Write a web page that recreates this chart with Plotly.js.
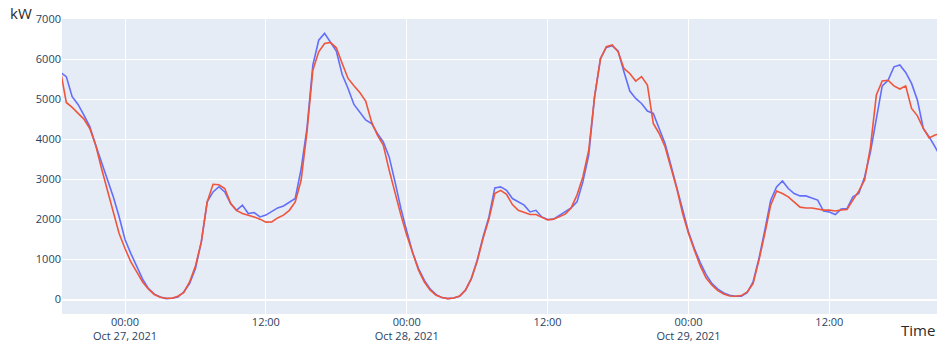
<!DOCTYPE html>
<html>
<head>
<meta charset="utf-8">
<script src="https://cdn.plot.ly/plotly-3.0.1.min.js"></script>
<style>html,body{margin:0;padding:0;background:#fff;}#chart{width:937px;height:344px;}</style>
</head>
<body>
<div id="chart"></div>
<script>
const times = [
'2021-10-26 18:30','2021-10-26 19:00','2021-10-26 19:30','2021-10-26 20:00','2021-10-26 20:30','2021-10-26 21:00','2021-10-26 21:30','2021-10-26 22:00','2021-10-26 22:30','2021-10-26 23:00','2021-10-26 23:30',
'2021-10-27 00:00','2021-10-27 00:30','2021-10-27 01:00','2021-10-27 01:30','2021-10-27 02:00','2021-10-27 02:30','2021-10-27 03:00','2021-10-27 03:30','2021-10-27 04:00','2021-10-27 04:30','2021-10-27 05:00','2021-10-27 05:30',
'2021-10-27 06:00','2021-10-27 06:30','2021-10-27 07:00','2021-10-27 07:30','2021-10-27 08:00','2021-10-27 08:30','2021-10-27 09:00','2021-10-27 09:30','2021-10-27 10:00','2021-10-27 10:30','2021-10-27 11:00','2021-10-27 11:30',
'2021-10-27 12:00','2021-10-27 12:30','2021-10-27 13:00','2021-10-27 13:30','2021-10-27 14:00','2021-10-27 14:30','2021-10-27 15:00','2021-10-27 15:30','2021-10-27 16:00','2021-10-27 16:30','2021-10-27 17:00','2021-10-27 17:30',
'2021-10-27 18:00','2021-10-27 18:30','2021-10-27 19:00','2021-10-27 19:30','2021-10-27 20:00','2021-10-27 20:30','2021-10-27 21:00','2021-10-27 21:30','2021-10-27 22:00','2021-10-27 22:30','2021-10-27 23:00','2021-10-27 23:30',
'2021-10-28 00:00','2021-10-28 00:30','2021-10-28 01:00','2021-10-28 01:30','2021-10-28 02:00','2021-10-28 02:30','2021-10-28 03:00','2021-10-28 03:30','2021-10-28 04:00','2021-10-28 04:30','2021-10-28 05:00','2021-10-28 05:30',
'2021-10-28 06:00','2021-10-28 06:30','2021-10-28 07:00','2021-10-28 07:30','2021-10-28 08:00','2021-10-28 08:30','2021-10-28 09:00','2021-10-28 09:30','2021-10-28 10:00','2021-10-28 10:30','2021-10-28 11:00','2021-10-28 11:30',
'2021-10-28 12:00','2021-10-28 12:30','2021-10-28 13:00','2021-10-28 13:30','2021-10-28 14:00','2021-10-28 14:30','2021-10-28 15:00','2021-10-28 15:30','2021-10-28 16:00','2021-10-28 16:30','2021-10-28 17:00','2021-10-28 17:30',
'2021-10-28 18:00','2021-10-28 18:30','2021-10-28 19:00','2021-10-28 19:30','2021-10-28 20:00','2021-10-28 20:30','2021-10-28 21:00','2021-10-28 21:30','2021-10-28 22:00','2021-10-28 22:30','2021-10-28 23:00','2021-10-28 23:30',
'2021-10-29 00:00','2021-10-29 00:30','2021-10-29 01:00','2021-10-29 01:30','2021-10-29 02:00','2021-10-29 02:30','2021-10-29 03:00','2021-10-29 03:30','2021-10-29 04:00','2021-10-29 04:30','2021-10-29 05:00','2021-10-29 05:30',
'2021-10-29 06:00','2021-10-29 06:30','2021-10-29 07:00','2021-10-29 07:30','2021-10-29 08:00','2021-10-29 08:30','2021-10-29 09:00','2021-10-29 09:30','2021-10-29 10:00','2021-10-29 10:30','2021-10-29 11:00','2021-10-29 11:30',
'2021-10-29 12:00','2021-10-29 12:30','2021-10-29 13:00','2021-10-29 13:30','2021-10-29 14:00','2021-10-29 14:30','2021-10-29 15:00','2021-10-29 15:30','2021-10-29 16:00','2021-10-29 16:30','2021-10-29 17:00','2021-10-29 17:30',
'2021-10-29 18:00','2021-10-29 18:30','2021-10-29 19:00','2021-10-29 19:30','2021-10-29 20:00','2021-10-29 20:30','2021-10-29 21:00','2021-10-29 21:30'
];

const actualKW = [
5680,5570,5070,4875,4610,4320,3860,3440,2980,2570,2070,
1500,1150,820,510,275,135,65,25,35,65,190,400,
775,1440,2440,2690,2820,2690,2400,2230,2360,2150,2175,2065,
2110,2190,2290,2340,2425,2525,3260,4275,5860,6480,6650,6440,
6210,5625,5275,4875,4675,4490,4400,4150,3940,3565,2940,2275,
1710,1175,775,480,260,125,50,25,40,85,235,525,
985,1565,2065,2790,2815,2730,2525,2440,2360,2190,2230,2065,
2000,2010,2110,2190,2290,2440,2940,3610,5070,6025,6300,6340,
6210,5690,5210,5025,4900,4710,4650,4275,3900,3360,2815,2230,
1690,1275,925,625,400,260,165,110,85,85,175,440,
1025,1735,2485,2815,2965,2775,2650,2590,2590,2540,2485,2210,
2190,2125,2260,2275,2565,2650,3065,3690,4565,5340,5480,5815,
5860,5675,5400,4980,4275,4065,3815,3550
];

const predictedKW = [
5730,4925,4800,4665,4510,4275,3860,3275,2730,2150,1650,
1275,940,690,440,260,125,60,35,35,85,175,440,
840,1440,2440,2880,2870,2775,2400,2230,2150,2110,2065,2010,
1935,1940,2040,2110,2230,2440,2980,4190,5730,6190,6400,6425,
6290,5900,5525,5340,5175,4960,4440,4110,3860,3235,2650,2110,
1610,1150,735,440,235,110,50,25,40,90,235,525,
960,1525,2010,2650,2730,2630,2375,2230,2175,2125,2125,2050,
1990,2010,2065,2135,2290,2610,3065,3730,5070,6010,6320,6360,
6190,5775,5650,5460,5570,5360,4400,4150,3820,3275,2775,2150,
1650,1235,840,540,360,225,140,90,85,100,190,400,
985,1650,2360,2710,2650,2565,2440,2310,2290,2290,2265,2235,
2235,2215,2240,2250,2485,2710,2985,3815,5110,5460,5480,5340,
5260,5340,4775,4590,4275,4040,4110,4150
];

const traces = [
  {x: times, y: actualKW, type: 'scatter', mode: 'lines', name: 'Actual',
   line: {color: '#636efa', width: 1.6}},
  {x: times, y: predictedKW, type: 'scatter', mode: 'lines', name: 'Predicted',
   line: {color: '#EF553B', width: 1.6}}
];

const layout = {
  width: 937, height: 344,
  margin: {l: 62, r: 0, t: 19, b: 30},
  paper_bgcolor: '#ffffff',
  plot_bgcolor: '#E5ECF6',
  showlegend: false,
  font: {family: '"Open Sans", verdana, arial, sans-serif', color: '#2a3f5f', size: 11},
  xaxis: {
    type: 'date',
    range: ['2021-10-26 18:38', '2021-10-29 21:10'],
    dtick: 43200000,
    tick0: '2021-10-27 00:00',
    gridcolor: '#ffffff', gridwidth: 1,
    showline: false, zeroline: false,
    ticks: '',
    tickfont: {size: 11, color: '#2a3f5f'}
  },
  yaxis: {
    range: [-360, 7010],
    dtick: 1000,
    gridcolor: '#ffffff', gridwidth: 1,
    zeroline: true, zerolinecolor: '#ffffff', zerolinewidth: 2,
    showline: false, ticks: '',
    tickfont: {size: 11, color: '#2a3f5f'}
  },
  annotations: [
    {text: 'kW', xref: 'paper', yref: 'paper', x: -0.047, y: 1.02,
     xanchor: 'center', yanchor: 'middle', showarrow: false,
     font: {size: 15, color: '#2a2a2a'}},
    {text: 'Time', xref: 'paper', yref: 'paper', x: 1.0, y: -0.054,
     xanchor: 'right', yanchor: 'middle', showarrow: false,
     font: {size: 15, color: '#2a2a2a'}}
  ]
};

Plotly.newPlot('chart', traces, layout, {staticPlot: true, displayModeBar: false});
</script>
</body>
</html>
